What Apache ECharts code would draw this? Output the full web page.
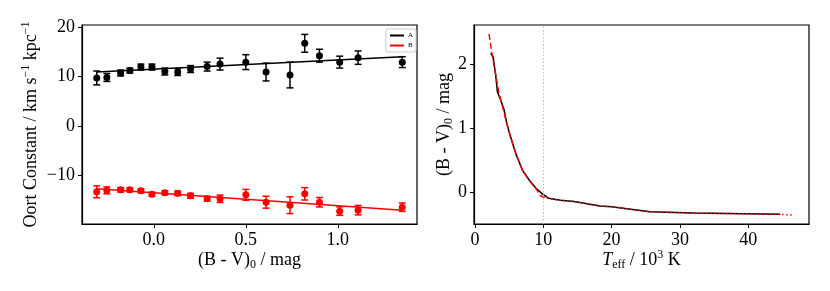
<!DOCTYPE html>
<html><head><meta charset="utf-8">
<script src="https://cdn.jsdelivr.net/npm/echarts@6/dist/echarts.min.js"></script>
<style>html,body{margin:0;padding:0;background:#fff}#c{width:830px;height:291px}</style>
</head><body><div id="c"></div>
<script>
// ---- Left panel data: Oort constants vs colour ----
const colorX   = [-0.31,-0.255,-0.18,-0.13,-0.07,-0.01,0.06,0.13,0.20,0.29,0.36,0.50,0.61,0.74,0.82,0.90,1.01,1.11,1.35];
const oortA    = [9.7,9.8,10.7,11.2,11.9,11.9,11.0,10.9,11.5,12.0,12.5,12.9,10.9,10.3,16.7,14.2,12.9,13.8,12.9];
const oortAErr = [1.4,0.8,0.6,0.5,0.6,0.6,0.7,0.7,0.7,0.9,1.2,1.5,1.8,2.6,1.8,1.3,1.2,1.35,1.1];
const oortB    = [-13.3,-13.0,-12.9,-12.9,-13.1,-13.8,-13.5,-13.6,-14.1,-14.7,-14.7,-13.9,-15.4,-16.0,-13.7,-15.4,-17.2,-17.0,-16.4];
const oortBErr = [1.2,0.7,0.45,0.4,0.4,0.4,0.4,0.45,0.5,0.5,0.75,1.1,1.2,1.7,1.25,0.95,0.85,0.95,0.85];
const fitX = [-0.31, 1.35];
const fitA = [10.9, 14.0];
const fitB = [-12.7, -17.0];
const leftXTicks = [0.0, 0.5, 1.0];
const leftYTicks = [-10, 0, 10, 20];

// ---- Right panel data: colour vs Teff ----
const tBlack  = [2.3,2.63,3.03,3.27,3.76,4.25,4.64,5.2,5.96,6.93,7.9,8.9,9.85,10.8,12.5,14.5,18.3,20,25.6,32.0,39.3,44.7];
const bvBlack = [2.17,2.12,1.83,1.57,1.44,1.29,1.08,0.87,0.61,0.35,0.20,0.07,-0.02,-0.09,-0.12,-0.14,-0.21,-0.22,-0.30,-0.32,-0.33,-0.34];
const tRedDash  = [2.05,2.5,3.0,3.5,4.0,4.6,5.2,6.0,7.0,8.0,9.0,9.6,10.0];
const bvRedDash = [2.47,2.15,1.85,1.55,1.35,1.10,0.87,0.60,0.34,0.18,0.05,-0.05,-0.07];
const tRedDot   = [10.0,11,12.5,14.5,18.3,20,25.6,32,39.3,44.7,46.5];
const bvRedDot  = [-0.07,-0.10,-0.12,-0.14,-0.21,-0.22,-0.30,-0.32,-0.33,-0.34,-0.35];
const teffCut = 10;
const rightXTicks = [0,10,20,30,40];
const rightYTicks = [0,1,2];

const FONT = 'Liberation Serif';
const zip = (a,b) => a.map((v,i)=>[v,b[i]]);
const zip3 = (a,b,c) => a.map((v,i)=>[v,b[i],c[i]]);
const fmt = v => String(v).replace('-', '\u2212');

function errRender(color){
  return function(params, api){
    const x = api.value(0), y = api.value(1), e = api.value(2);
    const t = api.coord([x, y+e]), b = api.coord([x, y-e]);
    const hw = 3.5, st = {stroke: color, lineWidth: 1.5};
    return {type:'group', children:[
      {type:'line', shape:{x1:t[0],y1:t[1],x2:b[0],y2:b[1]}, style:st},
      {type:'line', shape:{x1:t[0]-hw,y1:t[1],x2:t[0]+hw,y2:t[1]}, style:st},
      {type:'line', shape:{x1:b[0]-hw,y1:b[1],x2:b[0]+hw,y2:b[1]}, style:st}
    ]};
  };
}

const rich = {
  sup: {fontFamily: FONT, fontSize: 12, verticalAlign: 'top', lineHeight: 12, color:'#000'},
  sub: {fontFamily: FONT, fontSize: 12, verticalAlign: 'bottom', lineHeight: 12, color:'#000'},
  it:  {fontFamily: FONT, fontSize: 18, fontStyle: 'italic', color:'#000'}
};
const nameStyle = {fontFamily: FONT, fontSize: 18, color: '#000', lineHeight: 22, rich: rich};

function xAx(idx, min, max, ticks, name, fmtFn){
  return {type:'value', gridIndex: idx, min, max,
    name, nameLocation:'middle', nameGap: 25, nameMoveOverlap: false, nameTextStyle: nameStyle,
    splitLine:{show:false},
    axisLine:{show:true, onZero:false, lineStyle:{color:'#000', width:1.2}},
    axisTick:{show:true, customValues: ticks, length:4, lineStyle:{color:'#000', width:1}},
    axisLabel:{customValues: ticks, formatter: fmtFn, fontFamily: FONT, fontSize: 18, color:'#000', margin: 7}
  };
}
function yAx(idx, min, max, ticks, name, gap){
  return {type:'value', gridIndex: idx, min, max,
    name, nameLocation:'middle', nameGap: gap, nameMoveOverlap: false, nameRotate: 90, nameTextStyle: nameStyle,
    splitLine:{show:false},
    axisLine:{show:true, onZero:false, lineStyle:{color:'#000', width:1.2}},
    axisTick:{show:true, customValues: ticks, length:4, lineStyle:{color:'#000', width:1}},
    axisLabel:{customValues: ticks, formatter: v => fmt(v), fontFamily: FONT, fontSize: 18, color:'#000', margin: 7}
  };
}

const chart = echarts.init(document.getElementById('c'), null, {renderer:'canvas'});
chart.setOption({
  animation: false,
  backgroundColor: '#fff',
  grid: [
    {left: 82, top: 25, width: 335, height: 199, show: true, borderColor:'#000', borderWidth: 1.2},
    {left: 474, top: 25, width: 335, height: 199, show: true, borderColor:'#000', borderWidth: 1.2}
  ],
  legend: {
    right: 414, top: 29, orient: 'vertical', itemWidth: 14, itemHeight: 2, itemGap: 3,
    padding: [3, 3, 3, 4], borderColor: '#ccc', borderWidth: 1, borderRadius: 2,
    backgroundColor: '#fff',
    textStyle: {fontFamily: FONT, fontSize: 7, color:'#000', padding:[0,0,0,-1]},
    data: [{name:'A', icon:'rect'}, {name:'B', icon:'rect'}]
  },
  xAxis: [
    xAx(0, -0.39, 1.43, leftXTicks, '(B - V){sub|0} / mag', v => v.toFixed(1)),
    xAx(1, -0.15, 48.9, rightXTicks, '{it|T}{sub|eff} / 10{sup|3} K', v => String(v))
  ],
  yAxis: [
    yAx(0, -19.8, 20.4, leftYTicks, 'Oort Constant / km s{sup|\u22121} kpc{sup|\u22121}', 40),
    yAx(1, -0.49, 2.61, rightYTicks, '(B - V){sub|0} / mag', 19)
  ],
  series: [
    {name:'A', type:'line', xAxisIndex:0, yAxisIndex:0, data: zip(fitX, fitA), symbol:'none',
      lineStyle:{color:'#000', width:1.5}, itemStyle:{color:'#000'}, z:2},
    {name:'B', type:'line', xAxisIndex:0, yAxisIndex:0, data: zip(fitX, fitB), symbol:'none',
      lineStyle:{color:'#ff0000', width:1.5}, itemStyle:{color:'#ff0000'}, z:2},
    {name:'errA', type:'custom', xAxisIndex:0, yAxisIndex:0, data: zip3(colorX, oortA, oortAErr),
      renderItem: errRender('#000'), z:3},
    {name:'errB', type:'custom', xAxisIndex:0, yAxisIndex:0, data: zip3(colorX, oortB, oortBErr),
      renderItem: errRender('#ff0000'), z:3},
    {name:'ptsA', type:'scatter', xAxisIndex:0, yAxisIndex:0, data: zip(colorX, oortA), symbolSize: 7,
      itemStyle:{color:'#000', opacity:1}, z:4},
    {name:'ptsB', type:'scatter', xAxisIndex:0, yAxisIndex:0, data: zip(colorX, oortB), symbolSize: 7,
      itemStyle:{color:'#ff0000', opacity:1}, z:4},

    {name:'curveBlack', type:'line', xAxisIndex:1, yAxisIndex:1, data: zip(tBlack, bvBlack), symbol:'none',
      lineStyle:{color:'#000', width:1.5}, z:2,
      markLine:{silent:true, symbol:'none', label:{show:false},
        lineStyle:{color:'#bbb', type:[1.5,2], width:1}, data:[{xAxis: teffCut}]}},
    {name:'curveRedDash', type:'line', xAxisIndex:1, yAxisIndex:1, data: zip(tRedDash, bvRedDash), symbol:'none',
      lineStyle:{color:'#ff0000', width:1.5, type:[6,3]}, z:3},
    {name:'curveRedDot', type:'line', xAxisIndex:1, yAxisIndex:1, data: zip(tRedDot, bvRedDot), symbol:'none',
      lineStyle:{color:'#ff0000', width:1.5, type:[1.5,2.5]}, z:3}
  ]
});
</script></body></html>
